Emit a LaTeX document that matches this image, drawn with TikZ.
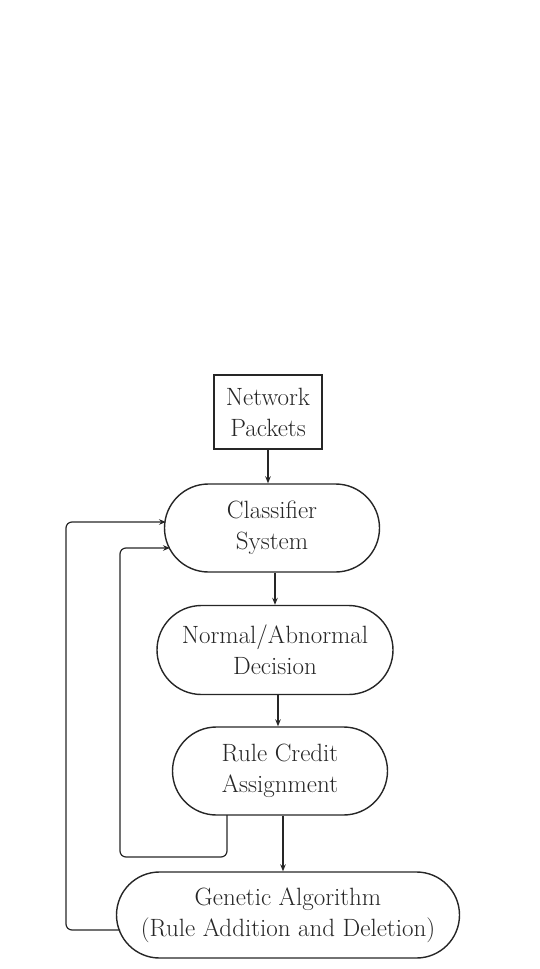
\documentclass[tikz,border=0pt]{standalone}
\usetikzlibrary{arrows.meta}
\begin{document}
\begin{tikzpicture}[x=1pt,y=-1pt,
  every node/.style={font=\fontsize{25}{31}\selectfont, align=center, line width=1.4pt, draw=black!85, text=black!85, inner sep=0pt},
  sqbox/.style={rectangle},
  pill/.style={rectangle, rounded corners=#1, minimum height=2*#1},
  arr/.style={line width=1.2pt, draw=black!85, -{Stealth[length=7pt,width=5.5pt]}},
  loop/.style={line width=1.2pt, draw=black!85, rounded corners=6pt, -{Stealth[length=7pt,width=5.5pt]}}]
\useasboundingbox (0,0) rectangle (540,969);
\node[sqbox, minimum width=108pt, minimum height=74pt] (np) at (268,412) {Network\\Packets};
\node[pill=44pt, minimum width=215pt] (cs) at (272,528) {Classifier\\System};
\node[pill=44.5pt, minimum width=236pt] (nd) at (275,650) {Normal/Abnormal\\Decision};
\node[pill=44pt, minimum width=215pt] (rc) at (280,771) {Rule Credit\\Assignment};
\node[pill=43pt, minimum width=343pt] (ga) at (288,915) {Genetic Algorithm\\(Rule Addition and Deletion)};
\coordinate (csin1) at (166,522);
\coordinate (csin2) at (170,548);
\coordinate (gaout) at (120,930);
\coordinate (rcout) at (227,815);
\draw[arr] (np.south) -- (np.south |- cs.north);
\draw[arr] ([xshift=3pt]cs.south) -- ([xshift=3pt]cs.south |- nd.north);
\draw[arr] ([xshift=3pt]nd.south) -- ([xshift=3pt]nd.south |- rc.north);
\draw[arr] ([xshift=3pt]rc.south) -- ([xshift=3pt]rc.south |- ga.north);
\draw[loop] (gaout) -- (66,930) -- (66,522) -- (csin1);
\draw[loop] (rcout) -- (227,857) -- (120,857) -- (120,548) -- (csin2);
\end{tikzpicture}
\end{document}
